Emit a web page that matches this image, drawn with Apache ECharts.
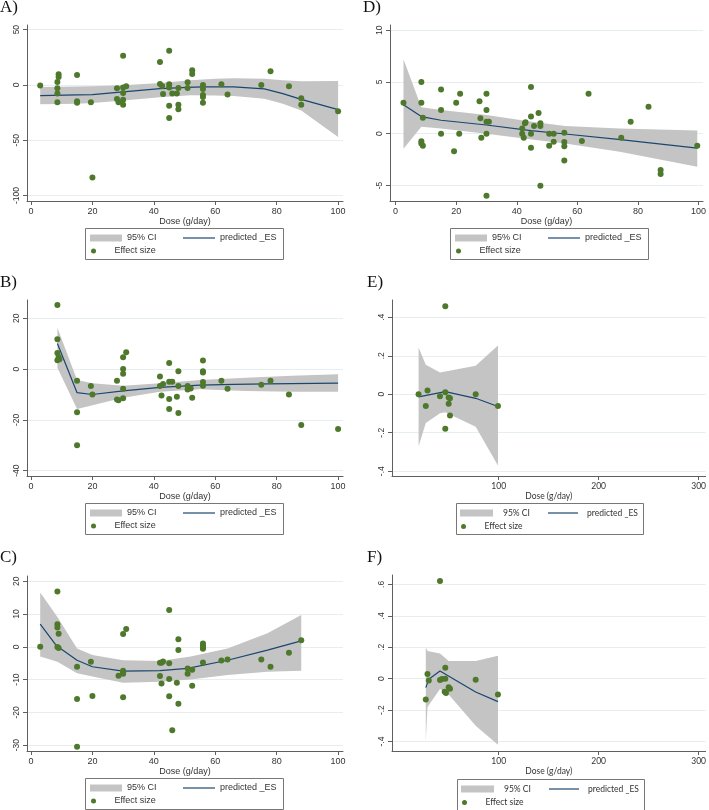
<!DOCTYPE html>
<html><head><meta charset="utf-8">
<script src="https://cdn.jsdelivr.net/npm/echarts@6/dist/echarts.min.js"></script>
<style>html,body{margin:0;padding:0;background:#fff}#c{width:709px;height:810px}</style>
</head><body><div id="c"></div>
<script>
// ---------- DATA ----------
const xTicksLow = [0, 20, 40, 60, 80, 100];
const xTicksHigh = [100, 200, 300];
const yTicksA = [-100, -50, 0, 50];
const yTicksB = [-40, -20, 0, 20];
const yTicksC = [-30, -20, -10, 0, 10, 20];
const yTicksD = [-5, 0, 5, 10];
const yTicksE = [-0.4, -0.2, 0, 0.2, 0.4];
const yTicksF = [-0.4, -0.2, 0, 0.2, 0.4, 0.6];

// Panel A
const pointsA = [[3,-0.5],[8.6,2.7],[8.6,-3],[8.6,-7.8],[8.6,-15.7],[9,9.6],[9,7.2],[15,9],[15,-14.8],[15,-16],[19.5,-15.7],[20,-83.7],[28,-3],[28,-12.7],[28.5,-15.7],[30,26.5],[30,-2.4],[30,-7.2],[30,-13.3],[30,-17.8],[31,-1.2],[42,20.8],[42,0.9],[42.7,-0.9],[43,-8.1],[45,31],[45,0.6],[45,-2.4],[45,-18.7],[45,-29.8],[46,-7.8],[47.5,-7.8],[48,-2.7],[48,-17.8],[48,-22],[51,2.4],[51,-2.7],[52.5,13.3],[52.5,10],[56,0],[56,-3.6],[56,-9],[56,-10.8],[56,-16],[62,0.6],[64,-8.7],[75,0],[78,12.3],[84,-1.2],[88,-12],[88,-17.8],[100,-23.8]];
const fitA = [[3,-9.6],[15,-9],[20,-8.7],[30,-6.3],[42,-3.3],[51,-2.1],[56,-1.8],[66,-1.8],[76,-3.6],[82,-7.8],[88,-13],[100,-22.3]];
const ciA = [[3,-17.5,-1.8],[15,-17,-1.5],[20,-16.3,-1.2],[30,-14,-0.3],[42,-11,1.8],[52,-9.3,4.2],[60,-9.5,5.7],[66,-10,6],[76,-12.4,5.7],[82,-17,4.2],[88,-23,3.3],[100,-47,3.6]];

// Panel B
const pointsB = [[8.6,25.2],[8.6,11.7],[8.6,6.3],[8.6,3.5],[9,4.8],[9.3,3.9],[15,-4.6],[15,-17],[15,-30],[19.5,-6.7],[20,-10],[28,-4.6],[28,-12],[28.5,-12.3],[30,4.7],[30,0],[30,-1.8],[30,-7.7],[30,-11.5],[31,6.6],[42,-2.9],[42,-6.7],[42.5,-10.4],[43,-5.9],[45,2.4],[45,-5],[45,-11.8],[45,-15.7],[46,-5],[47.5,-10.9],[48,-0.9],[48,-6.7],[48,-17.3],[51,-6.7],[51,-8],[52,-7.6],[52.5,-11.3],[56,3.4],[56,-0.9],[56,-1.3],[56,-5.1],[56,-6.6],[62,-4.6],[64,-7.7],[75,-6.2],[78,-4.6],[84,-10],[88,-22],[100,-23.6]];
const fitB = [[8.6,10.1],[15,-9.3],[20,-10],[30,-8.6],[42,-7.2],[55,-6.3],[66,-6],[77,-5.8],[100,-5.5]];
const ciB = [[8.6,0.5,16.3],[15,-15.7,-4.3],[20,-14.2,-5.6],[30,-11.3,-6.6],[42,-8.9,-5.6],[55,-7.9,-4.3],[70,-8.6,-3.4],[85,-8.9,-2.6],[100,-8.9,-2]];

// Panel C
const pointsC = [[3,0],[8.6,16.9],[8.6,6.9],[8.6,5.9],[9,4],[8.6,-0.1],[9,-0.4],[15,-6.1],[15,-15.9],[15,-30.5],[19.5,-4.6],[20,-15],[28.5,-8.8],[30,3.9],[30,-7.3],[30,-7.8],[30,-8.2],[30,-15.4],[31,5.4],[42,-4.9],[42,-8.9],[42.5,-11.2],[43,-4.5],[42.5,-4.9],[45,11.2],[45,-5],[45,-9.8],[45,-15.1],[46,-25.5],[47.5,-11],[48,2.3],[48,-1],[48,-17.4],[51,-6.6],[51,-8.2],[52.5,-7],[52.5,-11.9],[56,1],[56,0.4],[56,-0.3],[56,-0.6],[56,-4.8],[62,-4.2],[64,-3.9],[75,-3.9],[78,-6.1],[84,-1.8],[88,2]];
const fitC = [[3,6.9],[8.2,0.4],[15,-4.1],[20,-6.1],[30,-7.4],[42,-7.3],[51,-6.6],[64,-4.1],[77,-1],[88,1.8]];
const ciC = [[3,-3,16.6],[8.6,-4.6,9.1],[15,-8.1,-0.5],[20,-9.1,-2.5],[30,-11,-4.1],[42,-10.7,-4.3],[52,-10,-3],[64,-8.6,-0.5],[77,-7.6,4.1],[88,-7.3,9.7]];

// Panel D
const pointsD = [[2.6,3.0],[8.5,5.0],[8.5,3.0],[8.5,-0.74],[8.5,-0.94],[9,1.55],[9,-1.16],[15,4.26],[15,2.3],[15,0],[19.3,-1.7],[20,3.0],[21,0],[21.3,3.87],[27.7,3.13],[28,1.5],[28.3,-0.4],[30,3.87],[30,2.3],[30,1.16],[30,0],[30.8,1.16],[30,-6.0],[41.8,0.5],[41.8,0],[42.3,-0.4],[42.7,1.0],[42.9,1.1],[44.7,4.5],[44.7,1.65],[44.7,0],[44.7,-1.35],[45.7,0.74],[47.2,2.0],[47.8,1.0],[47.8,0.74],[47.8,-5.03],[50.7,0],[50.7,-1.16],[52.2,0],[52.2,-0.77],[55.7,0.1],[55.7,-0.8],[55.7,-1.2],[55.7,-2.6],[61.5,-0.7],[63.7,3.87],[74.5,-0.4],[77.6,1.16],[83.5,2.6],[87.5,-3.5],[87.5,-3.9],[99.6,-1.16]];
const fitD = [[2.6,2.8],[8.5,1.65],[15,1.3],[30,0.84],[44.7,0.3],[56,-0.03],[73.5,-0.55],[99.6,-1.4]];
const ciD = [[2.6,-1.45,7.2],[8.5,0.68,2.55],[15,0.5,2.3],[30,0,1.8],[45,-0.55,1.16],[56,-0.94,0.74],[74,-1.74,0.5],[99.6,-3.2,0.3]];

// Panel E
const pointsE = [[19.9,0],[27.1,-0.061],[28.8,0.019],[41.3,-0.01],[46.6,0.457],[46.6,0.01],[46.6,-0.18],[50,-0.017],[51.3,-0.021],[50,-0.05],[51.3,-0.111],[77,0],[99.3,-0.061]];
const fitE = [[19.9,-0.014],[46.6,0.014],[77,-0.021],[99.3,-0.064]];
const ciE = [[19.9,-0.27,0.243],[27.1,-0.15,0.153],[41.3,-0.099,0.113],[46.6,-0.094,0.118],[77,-0.169,0.148],[99.3,-0.37,0.254]];

// Panel F
const pointsF = [[27.1,-0.132],[28.8,0.03],[30.1,-0.011],[41.3,0.622],[41.3,-0.008],[43.3,-0.002],[46.6,0.07],[46.6,0],[46,-0.083],[47.3,-0.091],[50,-0.055],[51.3,-0.064],[77,-0.006],[99.3,-0.1]];
const fitF = [[27.1,-0.057],[30.1,-0.004],[41.3,0.049],[77,-0.085],[99.3,-0.146]];
const ciF = [[27.1,-0.40,0.2],[28.8,-0.18,0.176],[41.3,-0.065,0.161],[50,-0.1,0.113],[77,-0.30,0.113],[99.3,-0.42,0.146]];

// ---------- LAYOUT ----------
const SANS = '"Liberation Sans", Arial, sans-serif';
const CAL = 'Lato, "Open Sans", sans-serif';
const panels = [
  {label:'A)', lab:[0,7.5], pts:pointsA, fit:fitA, ci:ciA, xt:xTicksLow, yt:yTicksA, grid:{left:27,top:25,width:316,height:176}, xr:[-1.3,101.6], yr:[-104.9,54.2], leg:{L:85,T:228,W:198,style:'ad'}, font:SANS},
  {label:'B)', lab:[0,283], pts:pointsB, fit:fitB, ci:ciB, xt:xTicksLow, yt:yTicksB, grid:{left:27,top:300,width:316,height:176}, xr:[-1.3,101.6], yr:[-42.1,27.2], leg:{L:85,T:503,W:198,style:'ad'}, font:SANS},
  {label:'C)', lab:[0,557.5], pts:pointsC, fit:fitC, ci:ciC, xt:xTicksLow, yt:yTicksC, grid:{left:27,top:576,width:316,height:175}, xr:[-1.3,101.6], yr:[-31.8,21.6], leg:{L:85,T:778,W:198,style:'ad'}, font:SANS},
  {label:'D)', lab:[363,7.5], pts:pointsD, fit:fitD, ci:ciD, xt:xTicksLow, yt:yTicksD, grid:{left:390,top:25,width:318,height:176}, xr:[-1.85,101.5], yr:[-6.5,10.5], leg:{L:450,T:228,W:198,style:'ad'}, font:SANS},
  {label:'E)', lab:[367,282.5], pts:pointsE, fit:fitE, ci:ciE, xt:xTicksHigh, yt:yTicksE, grid:{left:392,top:300,width:316,height:176}, xr:[-6.7,307], yr:[-0.425,0.49], leg:{L:456,T:503,W:187,style:'ef'}, font:CAL},
  {label:'F)', lab:[367,557.5], pts:pointsF, fit:fitF, ci:ciF, xt:xTicksHigh, yt:yTicksF, grid:{left:392,top:575,width:316,height:176}, xr:[-6.7,307], yr:[-0.46,0.66], leg:{L:457,T:779,W:187,style:'ef'}, font:CAL}
];

const CI_COLOR = '#c4c4c4', LINE_COLOR = '#1a476f', DOT_COLOR = '#4e792c';
const AXIS_COLOR = '#5f5f5f', TEXT_COLOR = '#333', GRID_COLOR = '#e7eef1';

function fmtDot(v) {
  if (Math.abs(v) < 1e-9) return '0';
  if (Math.abs(v) < 1) return (v < 0 ? '-' : '') + String(+Math.abs(v).toFixed(2)).replace(/^0/, '');
  return String(v);
}

const grid = [], xAxis = [], yAxis = [], series = [], legend = [], graphic = [];
panels.forEach((p, i) => {
  grid.push(Object.assign({}, p.grid));
  xAxis.push({
    gridIndex:i, type:'value', min:p.xr[0], max:p.xr[1],
    name:'Dose (g/day)', nameLocation:'middle', nameGap:15,
    nameTextStyle:{fontFamily:p.font, fontSize:p.font===CAL?8.5:9, color:TEXT_COLOR},
    axisLine:{show:true, onZero:false, lineStyle:{color:AXIS_COLOR, width:1}},
    axisTick:{show:true, customValues:p.xt, length:4, lineStyle:{color:AXIS_COLOR}},
    axisLabel:{customValues:p.xt, margin:6, fontSize:p.font===CAL?8.5:9, fontFamily:p.font, color:TEXT_COLOR},
    splitLine:{show:false}
  });
  yAxis.push({
    gridIndex:i, type:'value', min:p.yr[0], max:p.yr[1],
    axisLine:{show:true, onZero:false, lineStyle:{color:AXIS_COLOR, width:1}},
    axisTick:{show:true, customValues:p.yt, length:4, lineStyle:{color:AXIS_COLOR}},
    axisLabel:{customValues:p.yt, rotate:90, margin:6, fontSize:8.5, fontFamily:SANS, color:TEXT_COLOR, formatter:fmtDot},
    splitLine:{show:true, lineStyle:{color:GRID_COLOR, width:1}}
  });
  const ci = p.ci;
  series.push({
    name:'95% CI', type:'custom', xAxisIndex:i, yAxisIndex:i, silent:true, z:1,
    itemStyle:{color:CI_COLOR},
    data:[[ci[0][0], ci[0][1]]],
    renderItem:function(params, api){
      const up = ci.map(d => api.coord([d[0], d[2]]));
      const lo = ci.slice().reverse().map(d => api.coord([d[0], d[1]]));
      return {type:'polygon', shape:{points:up.concat(lo)}, style:{fill:CI_COLOR}};
    }
  });
  series.push({
    name:'predicted _ES', type:'line', xAxisIndex:i, yAxisIndex:i, z:2, silent:true,
    data:p.fit, symbol:'none', showSymbol:false, smooth:false,
    lineStyle:{color:LINE_COLOR, width:1.2}, itemStyle:{color:LINE_COLOR}
  });
  series.push({
    name:'Effect size', type:'scatter', xAxisIndex:i, yAxisIndex:i, z:3, silent:true,
    data:p.pts, symbolSize:6, itemStyle:{color:DOT_COLOR, opacity:1}
  });

  // legend
  const L = p.leg.L, T = p.leg.T;
  const ts = {fontSize:p.leg.style==='ef'?8.5:9, fontFamily:p.font, color:TEXT_COLOR, lineHeight:12};
  const base = {orient:'horizontal', padding:0, selectedMode:false, itemGap:0};
  const lineItem = {name:'predicted _ES', icon:'rect', itemStyle:{color:LINE_COLOR}};
  if (p.leg.style === 'ad') {
    legend.push(Object.assign({}, base, {left:L+5, top:T+4, itemWidth:32, itemHeight:7, textStyle:ts,
      data:[{name:'95% CI', icon:'rect', itemStyle:{color:CI_COLOR}}]}));
    legend.push(Object.assign({}, base, {left:L+98, top:T+4, itemWidth:32, itemHeight:1.2, textStyle:ts,
      data:[lineItem]}));
    legend.push(Object.assign({}, base, {left:L+6, top:T+17, itemWidth:32, itemHeight:5, textStyle:ts,
      data:[{name:'Effect size', icon:'circle'}]}));
  } else {
    legend.push(Object.assign({}, base, {left:L+4, top:T+4, itemWidth:33, itemHeight:7, textStyle:Object.assign({}, ts, {padding:[0,0,0,5]}),
      data:[{name:'95% CI', icon:'rect', itemStyle:{color:CI_COLOR}}]}));
    legend.push(Object.assign({}, base, {left:L+92, top:T+4, itemWidth:30, itemHeight:1.2, textStyle:Object.assign({}, ts, {padding:[0,0,0,4]}),
      data:[lineItem]}));
    legend.push(Object.assign({}, base, {left:L+5, top:T+17.5, itemWidth:32, itemHeight:5, textStyle:ts,
      data:[{name:'Effect size', icon:'circle'}]}));
  }
  graphic.push({type:'rect', silent:true, shape:{x:L+0.5, y:T+0.5, width:p.leg.W, height:31},
    style:{fill:'none', stroke:'#777', lineWidth:1}, z:10});
  graphic.push({type:'text', silent:true, x:p.lab[0], y:p.lab[1],
    style:{text:p.label, fontSize:17, fontFamily:'"Liberation Serif", "Times New Roman", serif', fill:'#111', verticalAlign:'middle', align:'left'}});
});

const chart = echarts.init(document.getElementById('c'), null, {renderer:'canvas'});
chart.setOption({
  animation:false,
  backgroundColor:'#fff',
  grid, xAxis, yAxis, series, legend, graphic
});
</script>
</body></html>
